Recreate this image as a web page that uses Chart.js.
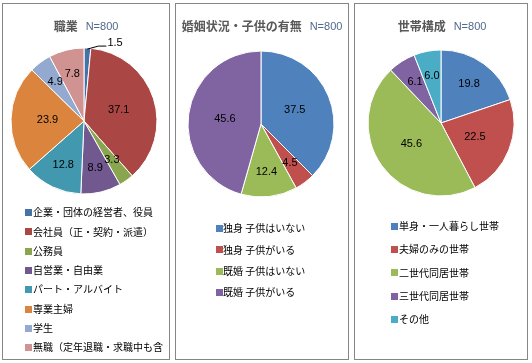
<!DOCTYPE html>
<html><head><meta charset="utf-8">
<script src="https://cdn.jsdelivr.net/npm/chart.js@4/dist/chart.umd.min.js"></script>
<style>
html,body{margin:0;padding:0;background:#fff;width:532px;height:363px;overflow:hidden;}
.panel{position:absolute;box-sizing:border-box;border:1px solid #868686;background:#fff;}
.panel canvas{position:absolute;left:0;top:0;}
</style></head><body>
<div class="panel" style="left:2px;top:3px;width:168px;height:357px"><canvas id="c1" width="166" height="355"></canvas></div>
<div class="panel" style="left:175px;top:3px;width:174px;height:357px"><canvas id="c2" width="172" height="355"></canvas></div>
<div class="panel" style="left:354px;top:3px;width:174px;height:357px"><canvas id="c3" width="172" height="355"></canvas></div>
<script>
// ---- data ----
const sampleNote = 'N=800';
const jobTitle = '職業';
const jobLabels = ['企業・団体の経営者、役員','会社員（正・契約・派遣）','公務員','自営業・自由業','パート・アルバイト','専業主婦','学生','無職（定年退職・求職中も含'];
const jobValues = [1.5, 37.1, 3.3, 8.9, 12.8, 23.9, 4.9, 7.8];
const maritalTitle = '婚姻状況・子供の有無';
const maritalLabels = ['独身 子供はいない','独身 子供がいる','既婚 子供はいない','既婚 子供がいる'];
const maritalValues = [37.5, 4.5, 12.4, 45.6];
const householdTitle = '世帯構成';
const householdLabels = ['単身・一人暮らし世帯','夫婦のみの世帯','二世代同居世帯','三世代同居世帯','その他'];
const householdValues = [19.8, 22.5, 45.6, 6.1, 6.0];

// ---- styles ----
const jobColors = ['#4572A7','#AA4643','#89A54E','#71588F','#4198AF','#DB843D','#93A9CF','#D19392'];
const stdColors = ['#4F81BD','#C0504D','#9BBB59','#8064A2','#4BACC6'];

function makeChart(id, cfg) {
  const canvas = document.getElementById(id);
  const W = canvas.width, H = canvas.height;
  const size = 2 * cfg.radius + 1;
  const left = cfg.cx - size / 2, top = cfg.cy - size / 2;
  const deco = {
    id: 'deco' + id,
    afterDraw(chart) {
      const ctx = chart.ctx;
      ctx.save();
      // title
      const tFont = 'bold 12px "Noto Sans CJK JP"';
      const nFont = '11px "Liberation Sans"';
      ctx.font = tFont; const tw = ctx.measureText(cfg.title).width;
      ctx.font = nFont; const nw = ctx.measureText(sampleNote).width;
      const gap = 8;
      let x0 = cfg.titleX - (tw + gap + nw) / 2;
      ctx.textBaseline = 'middle'; ctx.textAlign = 'left';
      ctx.font = tFont; ctx.fillStyle = '#595959';
      ctx.fillText(cfg.title, x0, cfg.titleY);
      ctx.font = nFont; ctx.fillStyle = '#53698A';
      ctx.fillText(sampleNote, x0 + tw + gap, cfg.titleY + 0.5);
      // data labels
      const meta = chart.getDatasetMeta(0);
      const vals = chart.data.datasets[0].data;
      ctx.font = '11px "Liberation Sans"';
      ctx.fillStyle = '#000';
      meta.data.forEach((arc, i) => {
        const p = arc.getProps(['x','y','startAngle','endAngle','outerRadius'], true);
        const mid = (p.startAngle + p.endAngle) / 2;
        const v = vals[i];
        const txt = v.toFixed(1);
        if (v < 2) {
          const ex = p.x + Math.cos(mid) * (p.outerRadius - 1);
          const ey = p.y + Math.sin(mid) * (p.outerRadius - 1);
          const x1 = ex + 11, y1 = ey - 3;
          const x2 = x1 + 8;
          ctx.strokeStyle = '#000'; ctx.lineWidth = 1;
          ctx.beginPath(); ctx.moveTo(ex, ey); ctx.lineTo(x1, y1); ctx.lineTo(x2, y1); ctx.stroke();
          ctx.textAlign = 'left';
          ctx.fillText(txt, x2 + 1, y1 - 3);
        } else {
          const f = v > 20 ? 0.5 : 0.66;
          const lx = p.x + Math.cos(mid) * p.outerRadius * f;
          const ly = p.y + Math.sin(mid) * p.outerRadius * f;
          ctx.textAlign = 'center';
          ctx.fillText(txt, lx, ly);
        }
      });
      // legend
      ctx.font = '10px "Noto Sans CJK JP"';
      ctx.textAlign = 'left'; ctx.textBaseline = 'middle';
      chart.data.labels.forEach((lab, i) => {
        const y = cfg.legY + i * cfg.legStep;
        ctx.fillStyle = chart.data.datasets[0].backgroundColor[i];
        ctx.fillRect(cfg.sqX, Math.round(y - 3), 7, 7);
        ctx.fillStyle = '#000';
        ctx.fillText(lab, cfg.txtX, y + 0.5);
      });
      ctx.restore();
    }
  };
  return new Chart(canvas, {
    type: 'pie',
    data: {
      labels: cfg.labels,
      datasets: [{ data: cfg.values, backgroundColor: cfg.colors, borderColor: '#ffffff', borderWidth: 1 }]
    },
    options: {
      responsive: false,
      animation: false,
      devicePixelRatio: 1,
      layout: { padding: { left: left, top: top, right: W - left - size, bottom: H - top - size } },
      plugins: { legend: { display: false }, tooltip: { enabled: false }, title: { display: false } }
    },
    plugins: [deco]
  });
}

// canvas origin = panel left+1, top+1 (page coords minus offset)
makeChart('c1', { labels: jobLabels, values: jobValues, colors: jobColors, title: jobTitle,
  cx: 84 - 3, cy: 121 - 4, radius: 73, titleX: 86 - 3, titleY: 26 - 4,
  sqX: 25 - 3, txtX: 33 - 3, legY: 212 - 4, legStep: 19.3 });
makeChart('c2', { labels: maritalLabels, values: maritalValues, colors: stdColors.slice(0, 4), title: maritalTitle,
  cx: 261 - 176, cy: 124 - 4, radius: 73, titleX: 262 - 176, titleY: 26 - 4,
  sqX: 216 - 176, txtX: 223 - 176, legY: 228 - 4, legStep: 21.3 });
makeChart('c3', { labels: householdLabels, values: householdValues, colors: stdColors, title: householdTitle,
  cx: 441 - 355, cy: 123 - 4, radius: 73, titleX: 442 - 355, titleY: 26 - 4,
  sqX: 391 - 355, txtX: 399 - 355, legY: 226 - 4, legStep: 23.2 });
</script>
</body></html>
